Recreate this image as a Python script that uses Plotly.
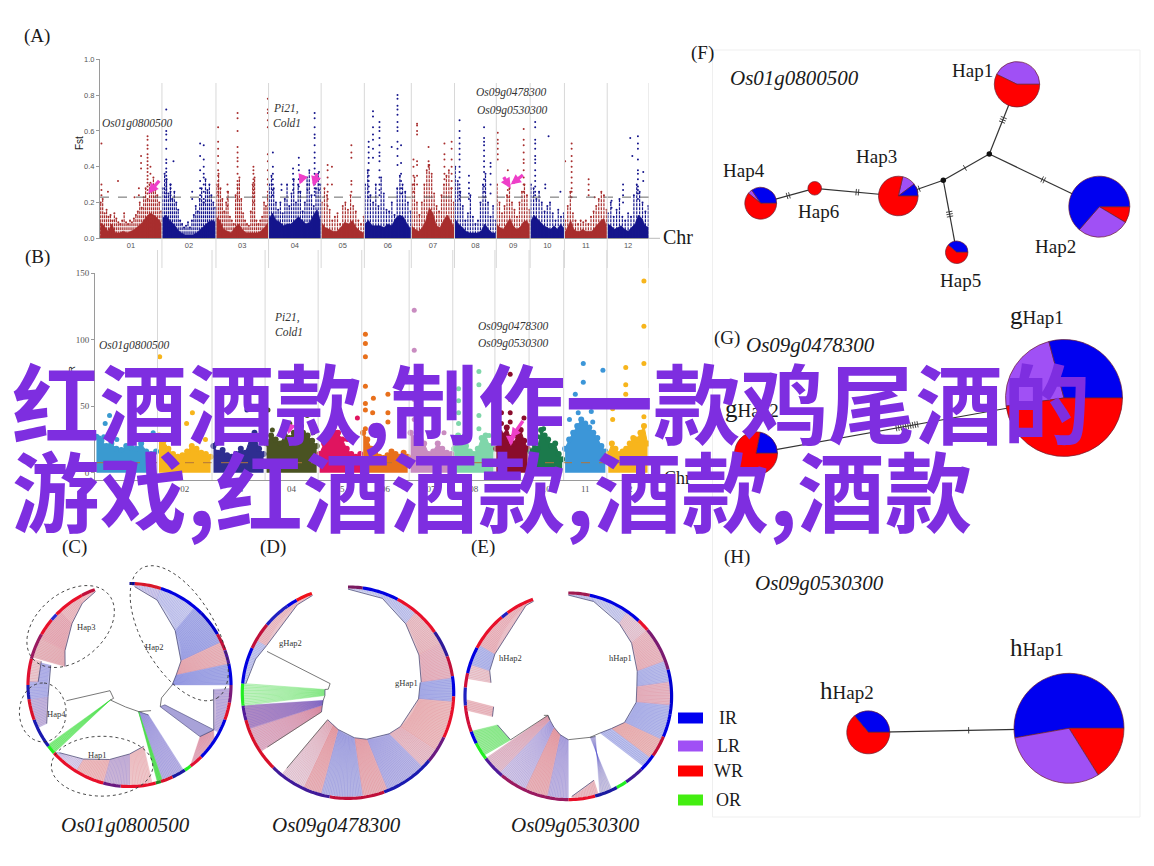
import math
import numpy as np
import plotly.graph_objects as go

W, H = 1154, 866
SERIF = "Liberation Serif"

# ---------- Manhattan data ----------
chr_names = ["01","02","03","04","05","06","07","08","09","10","11","12"]
chr_len_mb = [43,37.5,36.5,36.5,30,32.6,30,29,23.5,23.8,29.7,29]

fst_env = [
 [.09,.07,.04,.08,.03,.03,.04,.03,.04,.05,.07,.09,.12,.14,.13,.11,.08],
 [.11,.13,.1,.08,.05,.03,.02,.02,.02,.03,.05,.07,.09,.1,.09],
 [.12,.1,.05,.04,.03,.06,.08,.05,.03,.03,.03,.03,.04,.06,.09],
 [.11,.14,.1,.09,.07,.08,.08,.1,.12,.1,.08,.09,.13,.16,.09],
 [.09,.06,.05,.04,.04,.06,.09,.08,.1,.06,.04,.03],
 [.08,.1,.07,.07,.07,.06,.08,.07,.11,.13,.12,.08,.05],
 [.07,.05,.04,.06,.1,.17,.14,.07,.06,.1,.13,.1,.06],
 [.11,.08,.06,.04,.03,.03,.03,.04,.08,.05,.03,.03],
 [.08,.06,.05,.08,.11,.07,.05,.06,.09,.1,.07],
 [.09,.13,.11,.09,.07,.06,.05,.07,.05,.08,.05],
 [.03,.07,.1,.05,.04,.04,.05,.04,.04,.04,.06,.08,.1,.11,.06],
 [.08,.07,.05,.06,.07,.05,.04,.06,.08,.13,.11,.07,.06],
]
fst_stems = [
 [.2,.22,.14,.16,.12,.13,.1,.14,.11,.09,.08,.1,.14,.09,.08,.1,.09,.11,.13,.15,.2,.17,.23,.28,.22,.3,.26,.34,.27,.24,.2,.15],
 [.28,.36,.33,.25,.3,.22,.26,.2,.16,.1,.08,.06,.07,.09,.06,.1,.13,.18,.15,.22,.28,.2,.33,.27,.3,.24,.2,.17],
 [.3,.36,.28,.22,.15,.2,.26,.12,.1,.08,.24,.3,.34,.22,.14,.1,.08,.07,.15,.3,.34,.1,.08,.1,.12,.2,.18,.24],
 [.3,.35,.28,.2,.16,.2,.14,.22,.3,.18,.25,.33,.2,.3,.26,.15,.2,.34,.38,.24,.18,.28,.36,.3],
 [.2,.28,.24,.16,.1,.12,.14,.08,.18,.2,.16,.24,.18,.15,.1,.08,.12],
 [.3,.38,.24,.2,.3,.18,.34,.25,.16,.15,.2,.13,.28,.35,.3,.26,.2,.15],
 [.3,.34,.2,.13,.2,.3,.38,.41,.36,.25,.18,.15,.24,.3,.35,.38,.28,.2],
 [.4,.32,.26,.18,.1,.14,.24,.12,.08,.1,.2,.3,.36,.2,.12,.18,.1],
 [.3,.2,.14,.18,.24,.28,.2,.16,.12,.2,.26,.3,.24,.16],
 [.3,.28,.22,.26,.2,.15,.18,.2,.14,.1,.16,.12,.14],
 [.1,.18,.26,.14,.1,.08,.1,.09,.1,.08,.12,.15,.18,.22,.26,.24,.16],
 [.14,.2,.12,.16,.22,.12,.1,.14,.12,.24,.3,.26,.2,.15,.18],
]
fst_strands = [
 [(1,[.53,.3,.27,.24]),(5.5,[.26]),(12.5,[.32]),(27,[.28,.24]),(24,[.23]),(28.5,[.46,.42,.39]),
  (33,[.57,.55,.52,.5,.47,.45,.43,.41,.39,.37,.35,.33,.31,.29,.27,.25]),(35,[.4,.36,.31,.27])],
 [(3,[.72,.6,.58,.55,.5,.44,.42,.39,.37,.35,.33,.31,.29,.27,.25,.23]),(6,[.3,.28,.26,.24,.22]),(8,[.43]),
  (21,[.26,.22]),(26.5,[.53,.46,.38,.32,.28,.24]),(29,[.52,.44,.4,.36,.34,.3,.26,.22,.2])],
 [(1.5,[.62,.54,.5,.46,.42,.38,.35,.32,.29,.26,.24]),(8,[.3,.26,.22,.18]),
  (15,[.7,.67,.6,.51,.48,.45,.43,.4,.36,.32,.28,.25,.22]),(26,[.4,.38,.36,.33,.31,.29,.27,.25,.23,.2]),
  (36,[.78,.72,.7,.66,.62,.47,.43,.38,.33,.3,.26,.22])],
 [(3,[.48,.4,.36,.33,.3,.27,.24]),(9,[.3,.27]),(17,[.39,.36,.33,.3,.27]),(21,[.45,.41,.38,.33,.29,.26]),
  (27,[.3,.27]),(32,[.7,.67,.62,.58,.56,.52,.48,.45,.42,.39,.36,.33,.3,.28,.26,.24]),(35,[.37,.33,.3,.27])],
 [(4.5,[.41,.38,.34,.3,.26,.22,.18]),(7.5,[.4,.3]),(21,[.52,.48,.45,.32,.3,.26])],
 [(3,[.54,.51,.48,.45,.42,.38,.35,.32,.29,.26,.23]),(6,[.71,.68,.62,.58,.55,.5,.45]),
  (10.5,[.65,.62,.6,.56,.52,.48,.46,.43,.38,.34,.3,.27,.24]),(19,[.51]),
  (23,[.8,.78,.74,.72,.69,.65,.62,.6,.54,.5,.46,.41]),(25.5,[.52,.42,.36,.32,.28,.25])],
 [(1.5,[.44,.4,.35,.3,.26]),(4,[.64,.63,.6,.58,.43,.41,.35,.3]),(12,[.51,.43,.41,.4]),
  (23,[.53,.47,.44,.4,.36,.33]),(28,[.54,.5,.44,.4,.36,.32,.28])],
 [(3.5,[.66,.6,.56,.53,.5,.47,.44,.4,.37,.34,.3,.28,.26,.24,.22]),(10,[.35,.31,.28,.25,.22]),
  (20.5,[.62,.56,.54,.52,.49,.46,.43,.4,.37,.33,.29,.26,.23]),(25,[.42,.4,.36,.3,.25])],
 [(1,[.59,.55,.53,.5,.47,.44]),(8,[.38,.32,.27,.23]),(19,[.61,.55,.52,.48,.44,.42,.38,.34,.3,.26])],
 [(3.5,[.65,.62,.55,.53,.5,.46,.44,.42,.38,.35,.32,.29,.26,.24]),(10.5,[.3,.28]),(12.8,[.57]),(21,[.26])],
 [(.5,[.43]),(5,[.53,.5,.46,.43,.4,.37,.34,.31,.28,.26,.23]),(16.8,[.33,.3,.27,.24]),(21,[.23])],
 [(3,[.21,.17]),(11,[.3,.27,.24,.2]),(16,[.56]),(17.4,[.46]),(21.3,[.57,.53,.5,.44,.38,.36,.33,.29,.27,.25,.22]),(25,[.32,.37])],
]
xpclr_env = [
 [27,24,20,22,18,17,20,19,18,22,16,14,16],
 [28,24,18,14,12,13,16,20,18,15,14,12],
 [20,15,17,13,12,14,18,15,25,30,18,14],
 [22,28,25,22,28,26,30,35,30,28,24,20],
 [14,22,30,34,30,25,18,14,12,14],
 [30,25,18,14,12,11,13,16,14,12,15,12],
 [30,26,35,22,14,16,22,18,15,14],
 [18,28,25,20,16,14,18,26,28,20,18],
 [18,30,28,34,26,22,28,32,24,18],
 [16,22,18,32,28,25,20,22,14,10],
 [18,25,30,35,40,37,34,30,26,20,16],
 [14,22,18,14,16,18,22,26,25,30,35,22],
]
xpclr_pts = [
 [(7,37),(10,43),(6,27),(3,26),(25,32),(30,28),(40,30),(15,25)],
 [(1.5,87),(1.5,57),(2,37),(20,37),(24,45),(9,25),(28,28),(33,25)],
 [(24,47),(24,37),(28,25),(10,25),(3,22)],
 [(15,73),(15,55),(2,47),(17,37),(29,43),(5,32),(25,35),(33,30)],
 [(27,41),(20,25),(11,34),(14,30)],
 [(2.5,104),(2.5,97),(2.5,87),(2.5,65),(2.5,52),(2.5,47),(8,56),(18,59),(18,45),(7.5,45),(2.5,33),(18,38),(8,35)],
 [(3.5,122),(3.5,92),(9,45),(3.5,55),(24,30),(3.5,40)],
 [(18,76),(4,63),(18,66),(4,54),(4,45),(18,43),(4,37),(18,33),(25,28)],
 [(10.5,74),(10.5,55),(4.5,45),(10.5,45),(20,41),(4.5,37),(10.5,38)],
 [(10,33),(6,27)],
 [(13.5,82),(27,77),(13.5,68),(8,59),(13.5,52),(10,45),(19,46),(4,40),(20,38)],
 [(25.5,144),(25.5,110),(25.5,82),(13,79),(13,66),(13,59),(4,48),(25.5,50),(25.5,42),(4,40),(13,50)],
]
fst_colors = ["#a82e2e","#15158c"]
xpclr_colors = ["#3a9ad0","#f7b51c","#2e2e90","#4a5322","#e0145f","#e8701c",
                "#c98cc0","#7fd6aa","#8a0c2c","#1b7a4c","#3c96d8","#f7b51c"]
fst_threshold = 0.23
xpclr_threshold = 7.5
fst_arrows = [(0,42,.33,33.5,.25),(3,24.5,.36,21.5,.30),(3,34,.37,31,.29),(8,4.5,.35,10,.28),(8,19.5,.36,10,.30)]
xpclr_arrows = [(3,18,37,16,29),(8,11,28,11,20),(8,20,40,11,26)]

# ---------- Haplotype trees (compass degrees, radius as share of ring) ----------
ring_C = [(3,"#0a0a9a"),(18,"#d8182a"),(45,"#0000e0"),(60,"#0000c8"),(70,"#c0103a"),(78,"#501a99"),(90,"#0000e0"),
          (100,"#7a1a7a"),(110,"#e0102a"),(135,"#0000e0"),(143,"#e01030"),(147,"#22ee22"),(155,"#1a1aa0"),(162,"#d8102a"),
          (165,"#228822"),(185,"#e8102a"),(195,"#6a1a80"),(228,"#e8102a"),(233,"#22ee22"),(250,"#1a1ab0"),(262,"#d8102a"),
          (270,"#1a1ab0"),(285,"#e01030"),(300,"#9a1a60"),(310,"#e8102a"),(314,"#2a2ad0"),(332,"#e8102a"),(340,"#c0103a")]
ring_D = [(8,"#7a1a60"),(28,"#0000e0"),(55,"#e8102a"),(70,"#301a99"),(81,"#c0103a"),(92,"#0000e0"),(115,"#e8102a"),
          (130,"#6a1a80"),(160,"#1a1ab0"),(190,"#c0103a"),(225,"#401a99"),(255,"#d8102a"),(263,"#501a99"),(275,"#22ee22"),
          (295,"#0000e0"),(310,"#c0103a"),(325,"#2020c0"),(331,"#0000e0"),(340,"#f0101a")]
ring_E = [(12,"#a01a50"),(43,"#0000e0"),(50,"#e8102a"),(75,"#7a1a70"),(100,"#0000d0"),(113,"#0000e0"),(125,"#c0103a"),
          (135,"#0000e0"),(146,"#401a99"),(152,"#22ee22"),(165,"#1a1aa0"),(180,"#e8102a"),(220,"#9a1a60"),(233,"#501a99"),
          (243,"#22ee22"),(250,"#0000e0"),(265,"#d0103a"),(275,"#2020c0"),(283,"#d0103a"),(298,"#0000e0"),(320,"#e8102a"),
          (324,"#2020c0"),(340,"#e8102a")]
# outer start, outer end, inner start (deg, r), inner end (deg, r), colour
fan_C = [
 (3,18,3,.97,18,.88,"#d9d3ec"),(18,40,18,.88,40,.70,"#d4d6f0"),(40,65,40,.70,65,.56,"#b0b5e8"),
 (65,78,65,.56,78,.47,"#e8c0c6"),(78,90,78,.47,90,.42,"#b0b5e8"),(92,118,93,.83,118,.94,"#cdbbdd"),
 (122,142,118,.94,126,.86,"#e4c4d6"),
 (147.6,161,147.6,.35,161,.277,"#c0b9e4"),(161,164,161,.277,161.3,.277,"#66e066"),
 (167,180,167,.62,180,.68,"#f0d4d6"),(180,195,180,.68,195,.76,"#d8c0d8"),(195,212,195,.76,212,.86,"#edc6c8"),
 (212,228,212,.86,226,.96,"#e4d8ea"),(228,233.7,232,.24,232,.24,"#8cec8c"),
 (245,262,245,.90,262,.81,"#d0bfdc"),(262,284,262,.81,284,.80,"#c0c0ea"),(272,285,272,.9,285,.9,"#ead4da"),
 (286,298,286,.66,298,.72,"#e6c2c8"),(298,317,298,.72,317,.83,"#e6b8c2"),(317,330,317,.83,330,.93,"#eac6cc"),
 (330,340,330,.93,340,.98,"#f0ccd2"),
]
wedge_C = [(125.2,.37,119.3,.40,118,.94,126.2,.86,"#a8a2d8")]
fan_D = [
 (0,20,0,.98,20,.95,"#d4d7f0"),(20,40,20,.95,40,.85,"#ced1ee"),(40,62,40,.85,62,.76,"#e8c8ce"),
 (62,82,62,.76,82,.70,"#e6c2ce"),(82,95,82,.69,95,.67,"#b8bdea"),(95,123,95,.67,123,.59,"#ecc6c8"),
 (123,135,123,.59,135,.55,"#e6c8d2"),(135,158,135,.55,158,.475,"#c0bde6"),(158,172,158,.475,172,.43,"#e8bcc2"),
 (172,195,172,.43,195,.36,"#c0c0e6"),(195,205,195,.36,205,.335,"#e8bcc2"),(205,219,205,.335,217,.32,"#e6d8e4"),
 (236,250,234,.31,244,.27,"#dcb8d0"),(250,263,244,.27,253,.245,"#b890c4"),(263,275,263,.22,278,.22,"#d4f4d4"),
 (275,290,275,.97,290,.93,"#ced1ee"),(290,300,290,.93,300,.89,"#ced1ee"),(300,330,300,.89,330,.96,"#eac6cc"),
 (330,340,330,.96,340,.98,"#f0d0d6"),
]
fan_E = [
 (0,15,0,.98,15,.95,"#ced1ee"),(15,35,15,.95,35,.86,"#d6d8ee"),(35,50,35,.86,50,.80,"#e4d2de"),
 (50,70,50,.80,70,.71,"#e8c4cc"),(70,82,70,.71,82,.67,"#c4c8ec"),(82,95,82,.67,95,.66,"#e6c2ce"),
 (95,115,95,.66,115,.60,"#c0c5ec"),(115,127,115,.60,127,.52,"#eac2c2"),(127,133,127,.52,139,.47,"#c0c5ec"),
 (155,162,152,.45,146,.47,"#d4cee0"),(163,178,163,.85,178,.97,"#eac6cc"),
 (180,192,180,.42,192,.38,"#ccc0e2"),(192,205,192,.38,205,.33,"#e8bcc2"),(205,222,205,.33,218,.29,"#d8cce6"),
 (222,233,218,.29,227,.27,"#e0c6d6"),(235,250,233,.70,248,.74,"#a8eca8"),(262,268,255,.76,262,.73,"#eac6cc"),
 (280,288,280,.76,288,.80,"#ead4da"),(288,300,288,.80,300,.82,"#c0c5ec"),(300,335,300,.82,335,.97,"#eac0c8"),
 (335,340,335,.97,340,.98,"#f0d0d6"),
]
link_C = [[(256,.64),(253.7,.2),(230,.205),(232,.24)],[(90,.42),(112,.34),(125,.37)],[(140,.33),(161,.277),(190,.22),(232,.24)]]
link_D = [[(297,.86),(297,.19),(280,.19),(278,.22)],[(219,.92),(217,.32)],[(236,.92),(234,.31)],[(253,.245),(263,.22)]]
link_E = [[(233,.70),(227,.27),(232,.30)],[(139,.47),(152,.45),(180,.42)],[(218,.29),(227,.27)]]
ellipses_C = [(-.58,.576,.49,.33,40),(.49,.51,.74,.36,-60),(-.855,-.27,.29,.23,90),(-.27,-.80,.50,.295,0)]

# ---------- Haplotype networks ----------
net_nodes = {
 "Hap1":(1017,84.3),"Hap2":(1099.3,206.7),"Hap3":(898.3,196),"Hap4":(760.7,203.3),"Hap5":(956.7,252.3),"Hap6":(814.7,188.3),
 "n1":(943.3,180.3),"n2":(989.3,154),"gHap1":(1064,398),"gHap2":(756,453.3),"hHap1":(1069,728.3),"hHap2":(868.3,732.3)}
net_edges = [("Hap4","Hap6",.51,2),("Hap6","Hap3",.51,2),("Hap3","n1",.44,2),("n1","n2",.47,1),("n2","Hap1",.49,3),
             ("n2","Hap2",.49,2),("n1","Hap5",.47,3),("gHap2","gHap1",.49,10),("hHap2","hHap1",.5,1)]
BLUE, PURP, RED, GREEN = "#0000f0","#a050f5","#ff0000","#44ee11"
pies = [
 ("Hap1",22.7,296,[154,206],[PURP,RED]),
 ("Hap2",30.5,90,[31,100,229],[RED,PURP,BLUE]),
 ("Hap3",19.8,13,[40,37,283],[PURP,BLUE,RED]),
 ("Hap4",15.9,309,[17,124,219],[PURP,BLUE,RED]),
 ("Hap5",11.2,310,[140,220],[BLUE,RED]),
 ("Hap6",6.8,0,[1],[RED]),
 ("gHap1",58.5,262,[83,105,172],[PURP,BLUE,RED]),
 ("gHap2",21.5,11,[79,281],[BLUE,RED]),
 ("hHap1",55,260,[190,58,112],[BLUE,RED,PURP]),
 ("hHap2",21.5,320,[130,230],[BLUE,RED]),
]
legend_names = ["IR","LR","WR","OR"]
legend_cols = [BLUE,PURP,RED,GREEN]
legend_y = [718,746,771,800]

overlay_lines = ["红酒酒款,制作一款鸡尾酒的","游戏,红酒酒款,酒款,酒款"]

# ---------- build ----------
fig = go.Figure()
anns, shapes = [], []

def px(x): return x / W
def py(y): return 1 - y / H

def label(x, y, text, size=12, family=SERIF, color="#1a1a1a", angle=0, anchor="center", italic=False):
    anns.append(dict(xref="paper", yref="paper", x=px(x), y=py(y), text=f"<i>{text}</i>" if italic else text,
                     showarrow=False, xanchor=anchor, yanchor="middle", textangle=angle,
                     font=dict(size=size, family=family, color=color)))

starts = np.concatenate([[0], np.cumsum(chr_len_mb)])
total = float(starts[-1])
centers = [(starts[i] + starts[i+1]) / 2 for i in range(12)]

def axis_common(**kw):
    d = dict(showgrid=False, zeroline=False, showline=True, linecolor="#9a9a9a", linewidth=1, ticks="outside",
             ticklen=3, tickcolor="#9a9a9a", tickfont=dict(size=7.5, family="Liberation Sans", color="#555555"))
    d.update(kw); return d

layout_axes = dict(
    xaxis=axis_common(domain=[px(100), px(649)], range=[0, total], tickvals=centers, ticktext=chr_names, anchor="y", ticks=""),
    yaxis=axis_common(domain=[py(238.3), py(59.3)], range=[0, 1], tickvals=[0,.2,.4,.6,.8,1], tickformat=".1f", anchor="x"),
    xaxis2=axis_common(domain=[px(95), px(649)], range=[0, total], tickvals=centers, ticktext=chr_names, anchor="y2", ticks="",
                       tickfont=dict(size=9, family=SERIF, color="#555555")),
    yaxis2=axis_common(domain=[py(480), py(273)], range=[-5.5, 150], tickvals=[0,50,100,150], anchor="x2",
                       tickfont=dict(size=9, family=SERIF, color="#555555")),
    xaxis3=dict(domain=[0,1], range=[0,W], visible=False, anchor="y3"),
    yaxis3=dict(domain=[0,1], range=[H,0], visible=False, anchor="x3"),
)

for i in range(12):
    col = fst_colors[i % 2]
    xs = np.linspace(starts[i] + .2, starts[i+1] - .2, len(fst_env[i]))
    fig.add_trace(go.Scatter(x=xs, y=fst_env[i], mode="lines", line=dict(color=col, width=.6), fill="tozeroy",
                             fillcolor=col, xaxis="x", yaxis="y", hoverinfo="skip", opacity=.95))
    stem_x = np.linspace(starts[i] + .5, starts[i+1] - .5, len(fst_stems[i]))
    lx, ly = [], []
    for a, b in zip(stem_x, fst_stems[i]):
        lx += [a, a, None]; ly += [0, b, None]
    fig.add_trace(go.Scatter(x=lx, y=ly, mode="lines", line=dict(color=col, width=1.2, dash="3px,1px"), xaxis="x", yaxis="y", hoverinfo="skip"))
    fig.add_trace(go.Scatter(x=stem_x, y=fst_stems[i], mode="markers", marker=dict(color=col, size=2), xaxis="x", yaxis="y", hoverinfo="skip"))
    sx, sy = [], []
    for pos, vals in fst_strands[i]:
        sx += [starts[i] + pos] * len(vals); sy += vals
    fig.add_trace(go.Scatter(x=sx, y=sy, mode="markers", marker=dict(color=col, size=2), xaxis="x", yaxis="y", hoverinfo="skip"))
    col = xpclr_colors[i]
    xs = np.linspace(starts[i] + 1, starts[i+1] - 1, len(xpclr_env[i]))
    fig.add_trace(go.Scatter(x=xs, y=xpclr_env[i], mode="lines+markers", line=dict(color=col, width=1), marker=dict(color=col, size=6),
                             fill="tozeroy", fillcolor=col, xaxis="x2", yaxis="y2", hoverinfo="skip"))
    fig.add_trace(go.Scatter(x=[starts[i] + p for p, _ in xpclr_pts[i]], y=[v for _, v in xpclr_pts[i]], mode="markers",
                             marker=dict(color=col, size=5), xaxis="x2", yaxis="y2", hoverinfo="skip"))

fig.add_trace(go.Scatter(x=[0, total + 10], y=[fst_threshold]*2, mode="lines", line=dict(color="#666666", width=1, dash="dash"),
                         xaxis="x", yaxis="y", hoverinfo="skip", cliponaxis=False))
fig.add_trace(go.Scatter(x=[0, total], y=[xpclr_threshold]*2, mode="lines", line=dict(color="#b0763a", width=1, dash="dash"),
                         xaxis="x2", yaxis="y2", hoverinfo="skip"))

for b in starts[1:]:
    shapes.append(dict(type="line", xref="x", yref="paper", x0=b, x1=b, y0=py(83), y1=py(268),
                       line=dict(color="#d8d8d8", width=1), layer="above"))
    shapes.append(dict(type="line", xref="x2", yref="paper", x0=b, x1=b, y0=py(250), y1=py(480),
                       line=dict(color="#d8d8d8", width=1), layer="above"))
shapes.append(dict(type="line", xref="paper", yref="paper", x0=px(649), x1=px(660), y0=py(238.3), y1=py(238.3), line=dict(color="#bbbbbb", width=1)))

def arrows(items, xa, ya):
    for c, x0, y0, x1, y1 in items:
        anns.append(dict(xref=xa, yref=ya, axref=xa, ayref=ya, x=starts[c]+x1, y=y1, ax=starts[c]+x0, ay=y0, text="",
                         showarrow=True, arrowhead=2, arrowsize=.6, arrowwidth=3.4, arrowcolor="#ee3fc8"))
arrows(fst_arrows, "x", "y")
arrows(xpclr_arrows, "x2", "y2")

polar_cfg = {}
def hatch_color(c):
    r, b = int(c[1:3], 16), int(c[5:7], 16)
    g = int(c[3:5], 16)
    if g > r and g > b:
        return "rgba(40,220,40,.5)"
    return "rgba(210,40,60,.3)" if r > b else "rgba(40,40,200,.3)"

def polar_panel(idx, cx, cy, R, ring, fans, links, extra_wedges=()):
    name = "polar" if idx == 1 else f"polar{idx}"
    rmax = 1.25
    rad = R * rmax
    polar_cfg[name] = dict(domain=dict(x=[px(cx-rad), px(cx+rad)], y=[py(cy+rad), py(cy-rad)]),
                           bgcolor="rgba(0,0,0,0)",
                           radialaxis=dict(range=[0, rmax], visible=False),
                           angularaxis=dict(visible=False, rotation=90, direction="clockwise"))
    def arc(t0, t1, n=None):
        n = n or max(2, int(abs(t1-t0)/1.5)+2)
        return list(np.linspace(t0, t1, n))
    for o0, o1, i0, r0, i1, r1, c in fans:
        th = arc(o0, o1) + [i1, i0, o0]
        rr = [.985]*len(arc(o0, o1)) + [r1, r0, .985]
        fig.add_trace(go.Scatterpolar(theta=th, r=rr, mode="lines", fill="toself", fillcolor=c, line=dict(width=0, color=c),
                                      subplot=name, hoverinfo="skip"))
        n = max(3, int(abs(o1 - o0) / .9))
        ht, hr = [], []
        for k in range(n + 1):
            f = k / n
            ht += [o0 + (o1-o0)*f, i0 + (i1-i0)*f, None]
            hr += [.985, r0 + (r1-r0)*f, None]
        fig.add_trace(go.Scatterpolar(theta=ht, r=hr, mode="lines", line=dict(width=.55, color=hatch_color(c)),
                                      subplot=name, hoverinfo="skip"))
        fig.add_trace(go.Scatterpolar(theta=[i0, i1], r=[r0, r1], mode="lines", line=dict(width=.7, color="#3a3a6a"),
                                      subplot=name, hoverinfo="skip"))
    for t0, r0, t1, r1, t2, r2, t3, r3, c in extra_wedges:
        fig.add_trace(go.Scatterpolar(theta=[t0,t1,t2,t3,t0], r=[r0,r1,r2,r3,r0], mode="lines", fill="toself", fillcolor=c,
                                      line=dict(width=.6, color="#4a4a7a"), subplot=name, hoverinfo="skip"))
    for lk in links:
        fig.add_trace(go.Scatterpolar(theta=[p[0] for p in lk], r=[p[1] for p in lk], mode="lines",
                                      line=dict(width=.8, color="#555555"), subplot=name, hoverinfo="skip"))
    prev = 0
    for end, c in ring:
        t = arc(prev, end)
        fig.add_trace(go.Scatterpolar(theta=t, r=[1]*len(t), mode="lines", line=dict(width=3.2, color=c),
                                      subplot=name, hoverinfo="skip"))
        prev = end
    return name

pC = polar_panel(1, 129.5, 685, 101.5, ring_C, fan_C, link_C, wedge_C)
polar_panel(2, 348, 692.7, 105.7, ring_D, fan_D, link_D)
polar_panel(3, 568.3, 696.3, 103.3, ring_E, fan_E, link_E)

for cx, cy, a, b, tilt in ellipses_C:
    t = np.radians(np.arange(0, 366, 6))
    tr = math.radians(tilt)
    ex = cx + a*np.cos(t)*math.cos(tr) - b*np.sin(t)*math.sin(tr)
    ey = cy + a*np.cos(t)*math.sin(tr) + b*np.sin(t)*math.cos(tr)
    fig.add_trace(go.Scatterpolar(theta=np.degrees(np.arctan2(ex, ey)) % 360, r=np.hypot(ex, ey), mode="lines",
                                  line=dict(width=.9, color="#333333", dash="dot"), subplot=pC, hoverinfo="skip"))

ex, ey = [], []
tx, ty = [], []
for a, b, f, n in net_edges:
    (x0, y0), (x1, y1) = net_nodes[a], net_nodes[b]
    ex += [x0, x1, None]; ey += [y0, y1, None]
    L = math.hypot(x1-x0, y1-y0)
    ux, uy = (x1-x0)/L, (y1-y0)/L
    for k in range(n):
        off = (k - (n-1)/2) * 2.4
        mx, my = x0 + ux*(L*f+off), y0 + uy*(L*f+off)
        tx += [mx - uy*3.2, mx + uy*3.2, None]; ty += [my + ux*3.2, my - ux*3.2, None]
fig.add_trace(go.Scatter(x=ex, y=ey, mode="lines", line=dict(color="#333333", width=1.2), xaxis="x3", yaxis="y3", hoverinfo="skip"))
fig.add_trace(go.Scatter(x=tx, y=ty, mode="lines", line=dict(color="#333333", width=.9), xaxis="x3", yaxis="y3", hoverinfo="skip"))
fig.add_trace(go.Scatter(x=[net_nodes["n1"][0], net_nodes["n2"][0]], y=[net_nodes["n1"][1], net_nodes["n2"][1]], mode="markers",
                         marker=dict(color="#111111", size=5.5), xaxis="x3", yaxis="y3", hoverinfo="skip"))

for name, r, rot, vals, cols in pies:
    cx, cy = net_nodes[name]
    fig.add_trace(go.Pie(values=vals, sort=False, direction="clockwise", rotation=rot, textinfo="none", hoverinfo="skip",
                         marker=dict(colors=cols, line=dict(color="#6a2030", width=.7)),
                         domain=dict(x=[px(cx-r), px(cx+r)], y=[py(cy+r), py(cy-r)])))

for x0, y0, x1, y1 in [(712.5,50,1140,50),(712.5,50,712.5,817),(1140,50,1140,817),(712.5,817,1140,817)]:
    shapes.append(dict(type="line", xref="paper", yref="paper", x0=px(x0), x1=px(x1), y0=py(y0), y1=py(y1),
                       line=dict(color="#efefef", width=1)))
for yy, c in zip(legend_y, legend_cols):
    shapes.append(dict(type="rect", xref="paper", yref="paper", x0=px(678), x1=px(703), y0=py(yy-5.5), y1=py(yy+5.5),
                       fillcolor=c, line=dict(width=0)))
for yy, t in zip(legend_y, legend_names):
    label(728, yy, t, size=18)

for x, y, t in [(37,36,"(A)"),(37,257,"(B)"),(74,547,"(C)"),(272.7,547,"(D)"),(482.7,547,"(E)"),(702,53,"(F)"),(727,338,"(G)"),(737,557,"(H)")]:
    label(x, y, t, size=19)
label(80, 143, "Fst", size=10, family="Liberation Sans", angle=-90)
label(72, 382, "XP-CLR", size=9, family="Liberation Sans", angle=-90)
label(678, 237, "Chr", size=20)
label(677, 478, "Chr", size=18)
for x, y, t in [(137,124,"Os01g0800500"),(286,108,"Pi21,"),(287,123,"Cold1"),(511.4,92,"Os09g0478300"),(512.7,110.7,"Os09g0530300"),
                (134,345,"Os01g0800500"),(287,317.7,"Pi21,"),(289,331.7,"Cold1"),(513.6,326.7,"Os09g0478300"),(513.6,343.3,"Os09g0530300")]:
    label(x, y, t, size=11.5, italic=True, color="#333333")
for x, y, t in [(125.7,825,"Os01g0800500"),(336.7,825,"Os09g0478300"),(575,825,"Os09g0530300")]:
    label(x, y, t, size=21, italic=True)
for x, y, t in [(86,627,"Hap3"),(154,646.7,"Hap2"),(56,714,"Hap4"),(96.7,755,"Hap1"),(290,643,"gHap2"),(406.7,683,"gHap1"),(510.7,658,"hHap2"),(620,658,"hHap1")]:
    label(x, y, t, size=8.5, color="#333333")
for x, y, t in [(794.3,77.7,"Os01g0800500"),(810,345,"Os09g0478300"),(819,583,"Os09g0530300")]:
    label(x, y, t, size=21, italic=True)
for x, y, t in [(972.3,70.7,"Hap1"),(876.7,156.7,"Hap3"),(744.3,171,"Hap4"),(818.3,211.7,"Hap6"),(1055,246.7,"Hap2"),(960,280.7,"Hap5")]:
    label(x, y, t, size=19)
big = lambda c: f'<span style="font-size:25px">{c}</span>'
for x, y, t in [(1037,316,big("g")+"Hap1"),(751.7,408,big("g")+"Hap2"),(1037,647,big("h")+"Hap1"),(846.7,690,big("h")+"Hap2")]:
    label(x, y, t, size=19)

label(10, 399, f"<b>{overlay_lines[0]}</b>", size=87.5, family="Noto Sans CJK SC", color="#7e2ee0", anchor="left")
label(10, 487, f"<b>{overlay_lines[1]}</b>", size=87.5, family="Noto Sans CJK SC", color="#7e2ee0", anchor="left")

fig.update_layout(width=W, height=H, margin=dict(l=0,r=0,t=0,b=0,pad=0,autoexpand=False), autosize=False, showlegend=False,
                  paper_bgcolor="white", plot_bgcolor="rgba(0,0,0,0)", annotations=anns, shapes=shapes,
                  **layout_axes, **polar_cfg)
fig.write_html("out.html", config={"displayModeBar": False},
               post_script="document.body.style.margin='0';document.body.style.overflow='hidden';")
